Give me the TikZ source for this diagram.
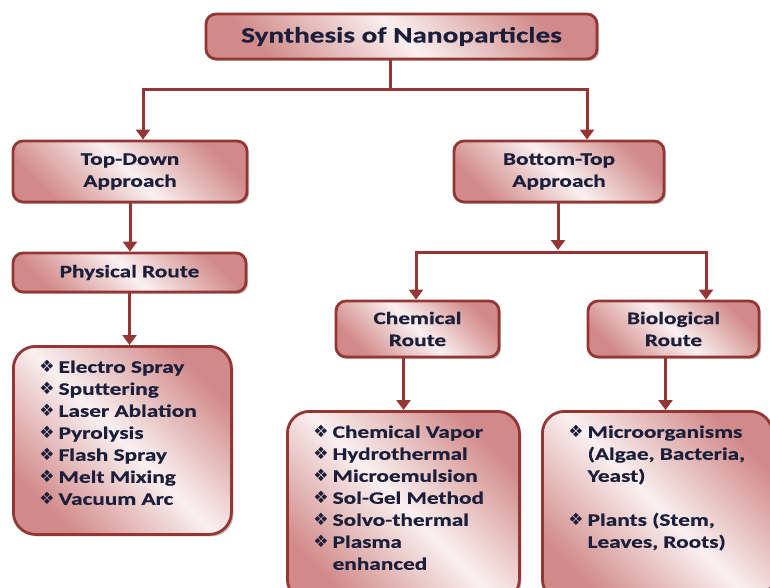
\documentclass[tikz,border=0pt]{standalone}
\usepackage{fontspec}
\setmainfont{Carlito}[FakeStretch=1.33, BoldFeatures={FakeBold=0.6}]
\newfontfamily\bulletfont{DejaVu Sans}
\usetikzlibrary{arrows.meta,shadows}

\definecolor{boxedge}{HTML}{943634}
\definecolor{boxdark}{HTML}{D18A89}
\definecolor{boxlight}{HTML}{FAF0F0}
\definecolor{ink}{HTML}{1B1F3B}

\pgfdeclarehorizontalshading{rosy}{100bp}{color(0bp)=(boxdark); color(25bp)=(boxdark);
  color(50bp)=(boxlight); color(75bp)=(boxdark); color(100bp)=(boxdark)}

\newcommand\itm{{\bulletfont\fontsize{17}{17}\selectfont ❖}\hspace{4pt}}
\newcommand\itmgap{\phantom{\itm}}

\begin{document}
\begin{tikzpicture}[
  x=1pt, y=-1pt,
  font=\fontsize{17.5}{22}\selectfont\bfseries, text=ink,
  box/.style={draw=boxedge, line width=2.8pt, shading=rosy, shading angle=45,
    rounded corners=10pt, align=center,
    drop shadow={shadow xshift=2pt, shadow yshift=-2pt, opacity=0.25, fill=black}},
  listbox/.style={box, rounded corners=22pt, anchor=north west,
    inner xsep=26pt, inner ysep=0pt},
  link/.style={draw=boxedge, line width=3pt},
  arrow/.style={link, -{Triangle[width=14pt,length=10pt]}}
]
\clip (0,0) rectangle (770,588);

% ── Top level ───────────────────────────────────────────────────
\node[box, minimum width=391pt, minimum height=45pt,
  font=\fontsize{22}{24}\selectfont\bfseries] (title) at (401.5,36.5)
  {Synthesis of Nanoparticles};

% ── Approaches ──────────────────────────────────────────────────
\node[box, minimum width=234pt, minimum height=61pt] (td) at (130,171.5)
  {Top-Down\\Approach};
\node[box, minimum width=210pt, minimum height=61pt] (bt) at (559,171.5)
  {Bottom-Top\\Approach};

% ── Routes ──────────────────────────────────────────────────────
\node[box, minimum width=233pt, minimum height=39pt] (phys) at (129.5,272.5)
  {Physical Route};
\node[box, minimum width=163pt, minimum height=56pt] (chem) at (417.5,329)
  {Chemical\\Route};
\node[box, minimum width=171pt, minimum height=56pt] (bio) at (673.5,329)
  {Biological\\Route};

% ── Method lists ────────────────────────────────────────────────
\node[listbox] (physlist) at (12,345) {\parbox[t][188pt][t]{166pt}{%
  \vspace*{14pt}%
  \itm Electro Spray\\
  \itm Sputtering\\
  \itm Laser Ablation\\
  \itm Pyrolysis\\
  \itm Flash Spray\\
  \itm Melt Mixing\\
  \itm Vacuum Arc}};
\node[listbox] (chemlist) at (286,410) {\parbox[t][190pt][t]{180pt}{%
  \vspace*{14pt}%
  \itm Chemical Vapor\\
  \itm Hydrothermal\\
  \itm Microemulsion\\
  \itm Sol-Gel Method\\
  \itm Solvo-thermal\\
  \itm Plasma\\
  \itmgap enhanced}};
\node[listbox] (biolist) at (541,410) {\parbox[t][190pt][t]{178pt}{%
  \vspace*{14pt}%
  \itm Microorganisms\\
  \itmgap (Algae, Bacteria,\\
  \itmgap Yeast)\\[22pt]
  \itm Plants (Stem,\\
  \itmgap Leaves, Roots)}};

% ── Connectors ──────────────────────────────────────────────────
\coordinate (split1) at (390,90);
\coordinate (split2) at (558,252);
\draw[link] (title.south -| split1) -- (split1);
\draw[arrow] (split1) -| ([xshift=13pt]td.north);
\draw[arrow] (split1) -| ([xshift=28pt]bt.north);
\draw[arrow] (td.south) -- (td.south |- phys.north);
\draw[arrow] (phys.south) -- (phys.south |- physlist.north);
\draw[arrow] (bt.south -| split2) -- ([yshift=2pt]split2);
\draw[arrow] (split2) -| ([xshift=-1.5pt]chem.north);
\draw[arrow] (split2) -| ([xshift=32.5pt]bio.north);
\draw[arrow] ([xshift=-14pt]chem.south) -- ([xshift=-14pt]chem.south |- chemlist.north);
\draw[arrow] ([xshift=-8pt]bio.south) -- ([xshift=-8pt]bio.south |- biolist.north);

\end{tikzpicture}
\end{document}
